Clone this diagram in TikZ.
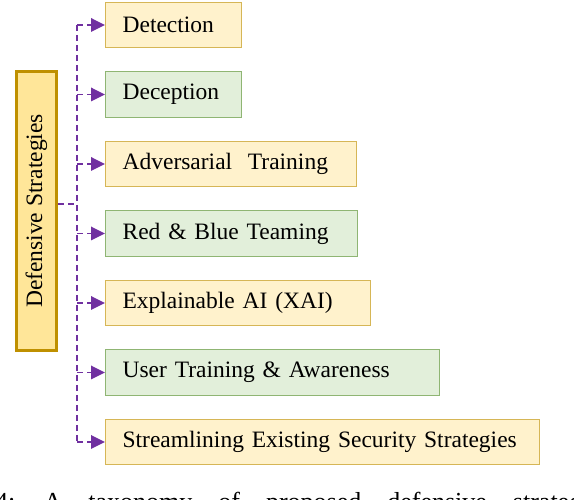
\documentclass[tikz,border=0pt]{standalone}
\usepackage{fontspec}
\setmainfont{Liberation Serif}
\usetikzlibrary{positioning,arrows.meta}
\definecolor{leafyellow}{HTML}{FFF2CC}
\definecolor{leafyellowline}{HTML}{D6B656}
\definecolor{leafgreen}{HTML}{E2EFDA}
\definecolor{leafgreenline}{HTML}{8FB573}
\definecolor{rootfill}{HTML}{FFE699}
\definecolor{rootline}{HTML}{BF9000}
\definecolor{linkpurple}{HTML}{7030A0}
\tikzset{
  root-node/.style={draw=rootline, line width=3pt, fill=rootfill,
    minimum width=40pt, minimum height=279pt, inner sep=0pt,
    font=\fontsize{23.5}{28}\selectfont},
  leaf-node/.style={line width=1.2pt, minimum height=45.5pt, inner xsep=17pt,
    inner ysep=0pt, align=left, font=\fontsize{23.5}{28}\selectfont},
  yellow-leaf/.style={leaf-node, draw=leafyellowline, fill=leafyellow},
  green-leaf/.style={leaf-node, draw=leafgreenline, fill=leafgreen},
  trunk-line/.style={line width=1.8pt, draw=linkpurple, dash pattern=on 6pt off 4pt},
  branch-arrow/.style={trunk-line, -{Triangle[length=14pt, width=13.5pt]}},
  caption-text/.style={font=\fontsize{26}{31}\selectfont}
}
\begin{document}
\begin{tikzpicture}[x=1pt, y=1pt, node distance=22.8pt]
\clip (0,0) rectangle (574,500);

% Root of the taxonomy
\node[root-node] (root) at (36.5,289) {\rotatebox{90}{Defensive Strategies}};

% Strategies, one under the other
\node[yellow-leaf, text width=102pt, anchor=west] (detect) at (105,475) {Detection};
\node[green-leaf, text width=102pt, below=of detect.south west, anchor=north west] (decept) {Deception};
\node[yellow-leaf, text width=217pt, below=of decept.south west, anchor=north west] (advtrain) {Adversarial~ Training};
\node[green-leaf, text width=218pt, below=of advtrain.south west, anchor=north west] (redblue) {Red \& Blue Teaming};
\node[yellow-leaf, text width=231pt, below=of redblue.south west, anchor=north west] (xai) {Explainable AI (XAI)};
\node[green-leaf, text width=300pt, below=of xai.south west, anchor=north west] (usertrain) {User Training \& Awareness};
\node[yellow-leaf, text width=400pt, below=of usertrain.south west, anchor=north west] (stream) {Streamlining Existing Security Strategies};

% Dashed tree connectors
\coordinate (trunk) at (77,289);
\draw[trunk-line] ([yshift=7pt]root.east) -- ([yshift=7pt]root.east -| trunk);
\draw[trunk-line] (trunk |- detect.west) -- (trunk |- stream.west);
\foreach \leaf in {detect,decept,advtrain,redblue,xai,usertrain,stream}
  \draw[branch-arrow] (trunk |- \leaf.west) -- (\leaf.west);

% Caption, cut off by the frame
\node[caption-text, anchor=base west, inner sep=0pt] (caption) at (-5,-11)
  {\spaceskip=26pt plus 2pt\relax 4: A taxonomy of proposed defensive strategies};
\end{tikzpicture}
\end{document}
